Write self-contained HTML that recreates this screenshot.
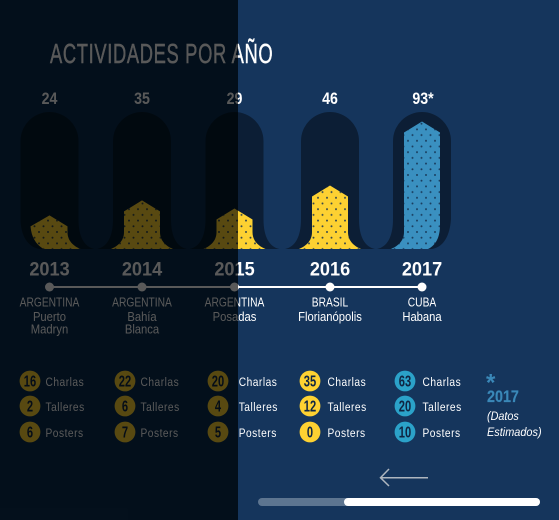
<!DOCTYPE html>
<html lang="es">
<head>
<meta charset="utf-8">
<title>Actividades por año</title>
<style>
html,body{margin:0;padding:0;background:#15355c;}
#stage{display:block;width:559px;height:520px;font-family:"Liberation Sans",sans-serif;}
</style>
</head>
<body>
<svg id="stage" xmlns="http://www.w3.org/2000/svg" width="559" height="520" viewBox="0 0 559 520">
  <defs>
    <pattern id="dots" patternUnits="userSpaceOnUse" width="9" height="11.4" x="1" y="2">
      <circle cx="2" cy="2" r="1" fill="#14304f" fill-opacity="0.85"/>
      <circle cx="6.5" cy="7.7" r="1" fill="#14304f" fill-opacity="0.85"/>
    </pattern>
  </defs>
  <rect x="0" y="0" width="559" height="520" fill="#15355c"/>
  <rect x="0" y="0" width="238" height="520" fill="#0a2d4f"/>
  <g id="pills"></g>
  <g id="bars"></g>
  <g id="timeline"></g>
  <g id="labels"></g>
  <g id="stats"></g>
  <g>
    <text transform="translate(486,390.5)" font-size="24" font-weight="700" fill="#3a88b8">*</text>
    <text transform="translate(487,402) scale(.87,1)" font-size="16.5" font-weight="700" fill="#3a88b8" stroke="#3a88b8" stroke-width=".2">2017</text>
    <text transform="translate(487,420) scale(.9,1)" font-size="12" font-style="italic" fill="#fff">(Datos</text>
    <text transform="translate(487,436) scale(.91,1)" font-size="12" font-style="italic" fill="#fff">Estimados)</text>
  </g>
  <g fill="none" stroke="#aeb6bf" stroke-width="1.5">
    <path d="M381 477.7H428"/>
    <path d="M389 469L380.5 477.7L389 486"/>
  </g>
  <rect x="258" y="498" width="282" height="8" rx="4" fill="#5d7590"/>
  <rect x="344" y="498" width="196" height="8" rx="4" fill="#fff"/>
  <text transform="translate(50,63) scale(.655,1)" font-size="28" letter-spacing="1" fill="#fff" stroke="#fff" stroke-width=".45">ACTIVIDADES POR AÑO</text>
  <rect x="0" y="0" width="238" height="520" fill="#000" fill-opacity="0.65" id="overlay"/>
</svg>
<script>
const years = [2013, 2014, 2015, 2016, 2017];
const totals = [24, 35, 29, 46, 93];
const estimated = [false, false, false, false, true];
const countries = ['ARGENTINA', 'ARGENTINA', 'ARGENTINA', 'BRASIL', 'CUBA'];
const cityLine1 = ['Puerto', 'Bahía', 'Posadas', 'Florianópolis', 'Habana'];
const cityLine2 = ['Madryn', 'Blanca', '', '', ''];
const charlas = [16, 22, 20, 35, 63];
const talleres = [2, 6, 4, 12, 20];
const posters = [6, 7, 5, 0, 10];

const SVGNS = 'http://www.w3.org/2000/svg';
const BASE = 249;

function xScale(i) {
  return i < 3 ? 49.5 + i * 92.5 : 330 + (i - 3) * 92;
}
function yScale(v) {
  return 248 - v * 1.36;
}
function statX(i) {
  return [30, 125, 218, 310, 405][i];
}
function barColor(i) {
  return i === 4 ? '#3a90c0' : '#fdd132';
}
function circleColor(i) {
  return i === 4 ? '#2ba2c9' : '#fdd132';
}

function make(parent, tag, attrs, name, interact) {
  const el = document.createElementNS(SVGNS, tag);
  for (const k in attrs) el.setAttribute(k, attrs[k]);
  
  
  parent.appendChild(el);
  return el;
}
function label(parent, x, y, str, size, weight, hs, fill, name, anchor, spacing) {
  const el = make(parent, 'text', {
    transform: 'translate(' + x + ',' + y + ') scale(' + hs + ',1)',
    'font-size': size,
    'font-weight': weight,
    fill: fill,
    'text-anchor': anchor || 'middle',
    'letter-spacing': spacing || 0
  }, name, 'false');
  el.textContent = str;
  return el;
}

const pillsG = document.getElementById('pills');
const barsG = document.getElementById('bars');
const timelineG = document.getElementById('timeline');
const labelsG = document.getElementById('labels');
const statsG = document.getElementById('stats');

years.forEach(function (year, i) {
  const cx = xScale(i);
  const first = i === 0;
  const last = i === years.length - 1;

  const pillLeft = first
    ? 'M' + (cx - 10) + ' ' + BASE + 'C' + (cx - 22) + ' ' + (BASE - 2) + ' ' + (cx - 29) + ' ' + (BASE - 14) + ' ' + (cx - 29) + ' ' + (BASE - 30)
    : 'M' + (cx - 45) + ' ' + BASE + 'C' + (cx - 35) + ' ' + (BASE - 2) + ' ' + (cx - 29) + ' ' + (BASE - 12) + ' ' + (cx - 29) + ' ' + (BASE - 30);
  const pillRight = last
    ? 'V' + (BASE - 30) + 'C' + (cx + 28) + ' ' + (BASE - 14) + ' ' + (cx + 22) + ' ' + (BASE - 2) + ' ' + (cx + 10) + ' ' + BASE
    : 'V' + (BASE - 30) + 'C' + (cx + 29) + ' ' + (BASE - 12) + ' ' + (cx + 35) + ' ' + (BASE - 2) + ' ' + (cx + 45) + ' ' + BASE;
  const pillPath = pillLeft + 'V141A29 29 0 0 1 ' + (cx + 29) + ' 141' + pillRight + 'Z';
  make(pillsG, 'path', { d: pillPath, fill: '#000', 'fill-opacity': 0.42 }, 'bar-track-' + year, 'false');

  const apex = yScale(totals[i]);
  const shoulder = apex + 11;
  const lower = Math.max(shoulder, 232);
  const barLeft = first
    ? 'M' + (cx - 6) + ' ' + BASE + 'C' + (cx - 14) + ' ' + (BASE - 5) + ' ' + (cx - 18) + ' ' + (BASE - 12) + ' ' + (cx - 19) + ' ' + shoulder
    : 'M' + (cx - 31) + ' ' + BASE + 'C' + (cx - 24) + ' ' + (BASE - 3) + ' ' + (cx - 18) + ' ' + (BASE - 8) + ' ' + (cx - 18) + ' ' + lower + 'V' + shoulder;
  const barRight = last
    ? 'V' + (BASE - 24) + 'C' + (cx + 18) + ' ' + (BASE - 12) + ' ' + (cx + 14) + ' ' + (BASE - 4) + ' ' + (cx + 6) + ' ' + BASE
    : 'V' + lower + 'C' + (cx + 18) + ' ' + (BASE - 8) + ' ' + (cx + 24) + ' ' + (BASE - 3) + ' ' + (cx + 31) + ' ' + BASE;
  const barPath = barLeft + 'L' + cx + ' ' + apex + 'L' + (cx + 18) + ' ' + shoulder + barRight + 'Z';
  make(barsG, 'path', { d: barPath, fill: barColor(i) }, 'bar-' + year, 'true');
  make(barsG, 'path', { d: barPath, fill: 'url(#dots)' }, 'bar-dots-' + year, 'false');

  const valueText = totals[i] + (estimated[i] ? '*' : '');
  label(labelsG, cx + (estimated[i] ? 1 : 0), 104, valueText, 16.5, 700, 0.86, '#fff', 'total-' + year);
  label(labelsG, cx, 275.5, String(year), 19.5, 700, 0.93, '#fff', 'year-' + year);
  label(labelsG, cx, 306.7, countries[i], 12.5, 400, 0.82, '#fff', 'country-' + year);
  label(labelsG, cx, 321, cityLine1[i], 12.5, 400, 0.9, '#fff', 'city-' + year);
  if (cityLine2[i]) {
    label(labelsG, cx, 333.5, cityLine2[i], 12.5, 400, 0.9, '#fff', 'city-line2-' + year);
  }

  const sx = statX(i);
  const rows = [
    { name: 'Charlas', values: charlas, cy: 381 },
    { name: 'Talleres', values: talleres, cy: 406 },
    { name: 'Posters', values: posters, cy: 432 }
  ];
  rows.forEach(function (row) {
    const key = row.name.toLowerCase() + '-' + year;
    make(statsG, 'circle', { cx: sx, cy: row.cy, r: 10.4, fill: circleColor(i) }, key + '-badge', 'false');
    label(statsG, sx, row.cy + 5.6, String(row.values[i]), 15.5, 700, 0.72, '#0f2542', key + '-value');
    label(statsG, sx + (i < 2 ? 15.5 : i === 2 ? 20.7 : 17.5), row.cy + 5, row.name, 12, 400, 0.85, '#fff', key + '-label', 'start', 0.6);
  });
});

make(timelineG, 'line', { x1: xScale(0), x2: xScale(years.length - 1), y1: 287, y2: 287, stroke: '#fff', 'stroke-width': 2 }, 'timeline-line', 'false');
years.forEach(function (year, i) {
  make(timelineG, 'circle', { cx: xScale(i), cy: 287, r: 4.5, fill: '#fff' }, 'timeline-dot-' + year, 'true');
});
</script>
</body>
</html>
